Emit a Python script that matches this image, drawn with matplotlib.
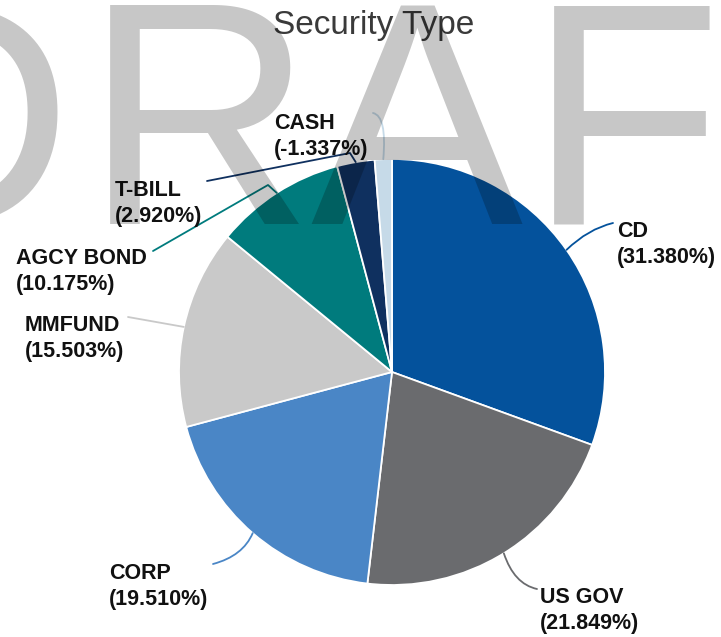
import numpy as np
import matplotlib
matplotlib.use("Agg")
import matplotlib.pyplot as plt
from matplotlib.path import Path
from matplotlib.patches import PathPatch

# ---- data ----
categories = ['CD', 'US GOV', 'CORP', 'MMFUND', 'AGCY BOND', 'T-BILL', 'CASH']
values = [31.380, 21.849, 19.510, 15.503, 10.175, 2.920, -1.337]
colors = ['#04529c', '#6a6b6e', '#4a86c6', '#c9c9c9', '#007b7d', '#0f305f', '#c6dae8']
title = 'Security Type'
watermark = 'DRAFT'

# ---- layout (pixel coords, origin top-left) ----
W, H = 721, 637
CX, CY, R = 392, 372, 213
# label last-line baseline positions
label_pos = {
    'CD': (617, 263), 'US GOV': (540, 629), 'CORP': (109, 605),
    'MMFUND': (25, 357), 'AGCY BOND': (16, 290), 'T-BILL': (115, 222),
    'CASH': (274, 155),
}
# leader path: points from label end toward pie (pie anchor appended), 'q' = quadratic control
leaders = {
    'CD': ('q', [(613, 223), (588, 229)]),
    'US GOV': ('q', [(537, 589), (514, 584)]),
    'CORP': ('q', [(213, 564), (243, 556)]),
    'MMFUND': ('l', [(128, 317)]),
    'AGCY BOND': ('l', [(153, 251), (268, 185)]),
    'T-BILL': ('l', [(207, 181), (350, 153)]),
    'CASH': ('q', [(373, 113), (387, 116)]),
}
# watermark letter centres (x) and common baseline (y)
wm_x = [-42, 199, 416, 625, 830]
wm_base = 224

fig = plt.figure(figsize=(W / 100, H / 100), dpi=100)
ax = fig.add_axes([0, 0, 1, 1])

def P(x, y):
    return (x, H - y)

wedges, _ = ax.pie(np.abs(values), colors=colors, startangle=90, counterclock=False,
                   center=P(CX, CY), radius=R,
                   wedgeprops=dict(edgecolor='white', linewidth=1.3))
ax.set_xlim(0, W)
ax.set_ylim(0, H)
ax.set_aspect('equal')
ax.axis('off')

FONT = ['Liberation Sans', 'DejaVu Sans']
for cat, val, w, col in zip(categories, values, wedges, colors):
    mid = np.deg2rad((w.theta1 + w.theta2) / 2)
    anchor = (CX + R * np.cos(mid), H - CY + R * np.sin(mid))
    kind, pts = leaders[cat]
    pts = [P(*p) for p in pts]
    if kind == 'q':
        verts = [pts[0], pts[1], anchor]
        codes = [Path.MOVETO, Path.CURVE3, Path.CURVE3]
    else:
        verts = pts + [anchor]
        codes = [Path.MOVETO] + [Path.LINETO] * (len(verts) - 1)
    ax.add_patch(PathPatch(Path(verts, codes), facecolor='none', edgecolor=col,
                           linewidth=1.3, zorder=3, capstyle='round', joinstyle='round'))
    lx, ly = label_pos[cat]
    ax.text(lx, H - ly, f'{cat}\n({val:.3f}%)', ha='left', va='baseline',
            fontsize=15.5, fontweight='bold', family=FONT, color='#111111',
            linespacing=1.3, zorder=5)

ax.text(374, H - 34, title, ha='center', va='baseline', fontsize=24,
        family=FONT, color='#3a3a3a', zorder=6)

for ch, x in zip(watermark, wm_x):
    ax.text(x, H - wm_base, ch, ha='center', va='baseline', fontsize=229,
            family=FONT, color='black', alpha=0.22, zorder=10)

fig.savefig('out.png', dpi=100)
